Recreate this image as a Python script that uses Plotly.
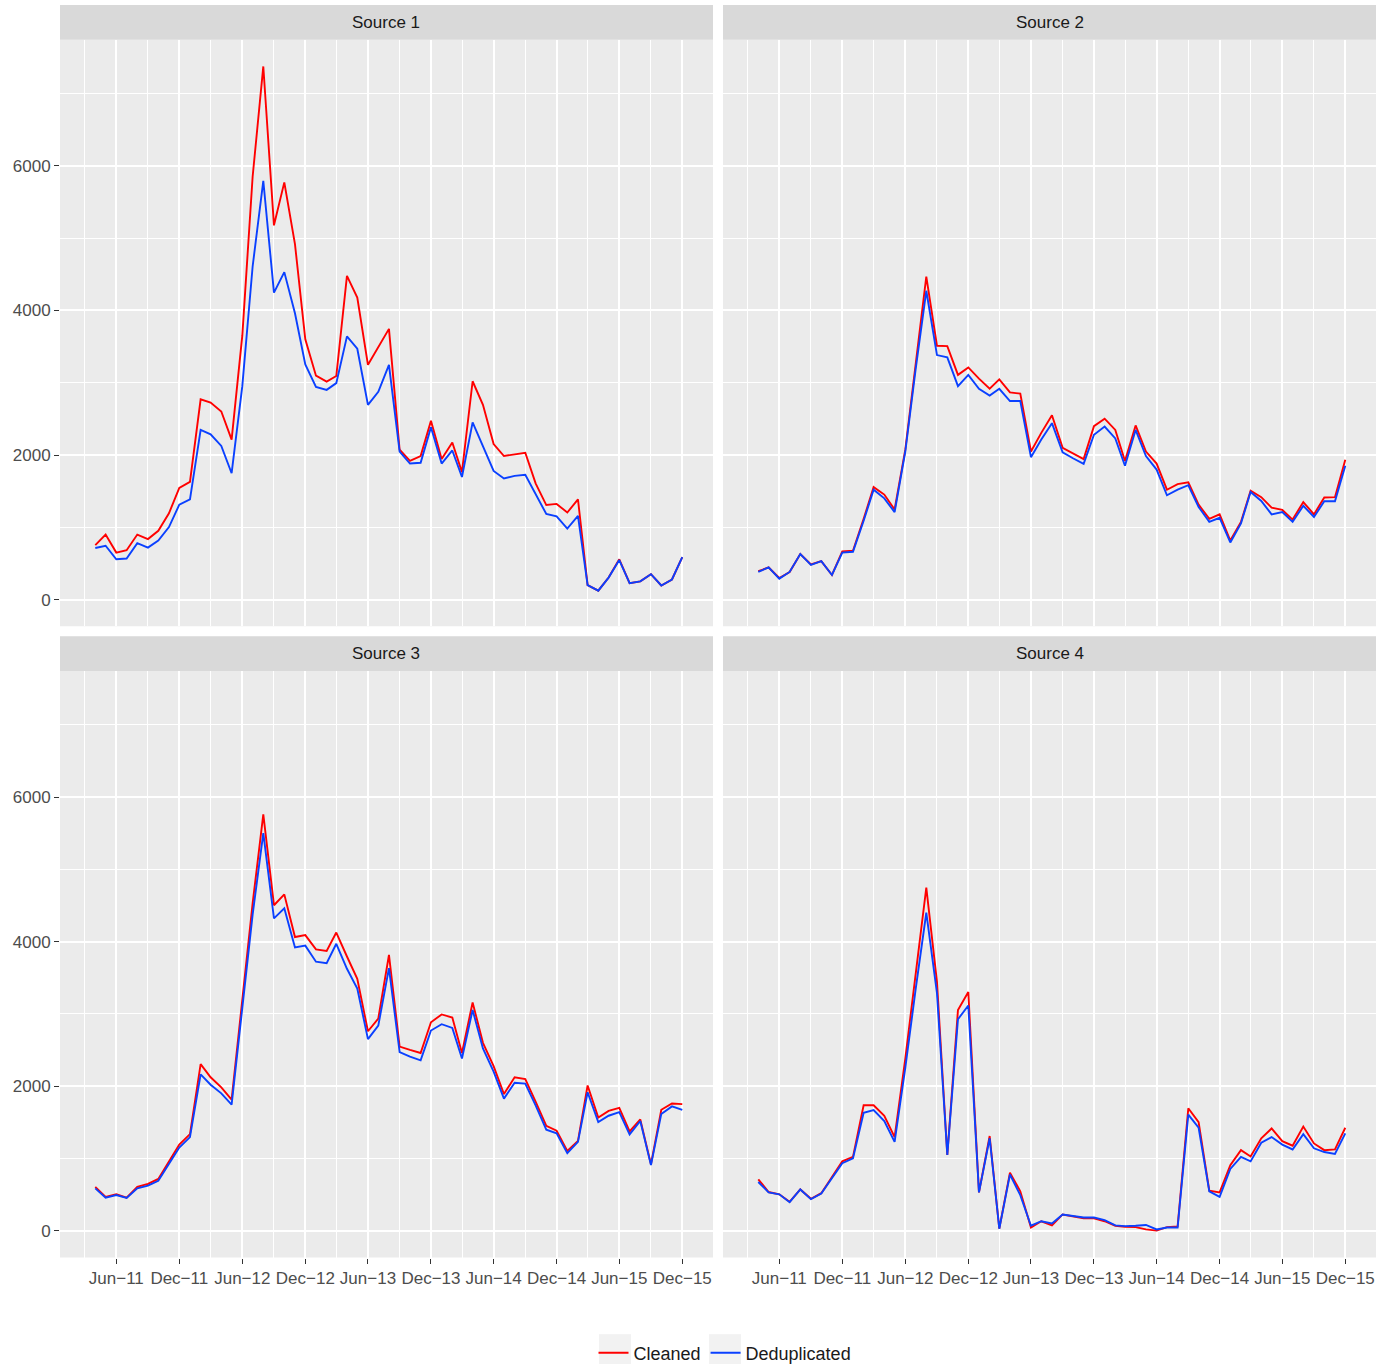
import plotly.graph_objects as go
import pandas as pd

# ---------------- data ----------------
months = pd.date_range("2011-04-01", periods=57, freq="MS")

panel_titles = ["Source 1", "Source 2", "Source 3", "Source 4"]
series_names = ["Cleaned", "Deduplicated"]

s1_cleaned = [755, 900, 651, 683, 900, 838, 951, 1194, 1546, 1629, 2771, 2725, 2601, 2213, 3650, 5848, 7373,
              5176, 5770, 4917, 3599, 3097, 3014, 3092, 4478, 4178, 3247, 3495, 3744, 2073, 1918, 1986, 2472,
              1944, 2172, 1763, 3020, 2694, 2151, 1986, 2011, 2032, 1608, 1308, 1324, 1205, 1386, 202, 124,
              305, 558, 228, 253, 352, 196, 279, 589]
s1_dedup = [714, 745, 558, 569, 781, 719, 817, 1003, 1313, 1386, 2347, 2285, 2125, 1748, 2952, 4607, 5791,
            4245, 4529, 3961, 3252, 2942, 2901, 2994, 3640, 3470, 2694, 2875, 3247, 2048, 1882, 1892, 2384,
            1882, 2063, 1696, 2451, 2115, 1779, 1675, 1711, 1727, 1468, 1184, 1153, 982, 1158, 202, 124,
            305, 548, 228, 253, 352, 196, 279, 589]

s2_cleaned = [393, 445, 300, 383, 631, 486, 533, 341, 667, 677, 1117, 1556, 1453, 1246, 2073, 3263, 4467,
              3511, 3506, 3108, 3211, 3056, 2916, 3046, 2865, 2849, 2048, 2306, 2549, 2099, 2022, 1944, 2399,
              2503, 2347, 1918, 2409, 2048, 1882, 1520, 1598, 1624, 1313, 1117, 1179, 817, 1075, 1505, 1417,
              1272, 1241, 1107, 1350, 1179, 1412, 1417, 1934]
s2_dedup = [383, 445, 290, 383, 631, 480, 533, 341, 651, 662, 1091, 1520, 1401, 1210, 2048, 3185, 4271,
            3382, 3351, 2952, 3108, 2916, 2823, 2916, 2746, 2746, 1970, 2213, 2440, 2037, 1955, 1877, 2280,
            2394, 2229, 1851, 2347, 1986, 1799, 1443, 1520, 1582, 1282, 1075, 1132, 791, 1055, 1489, 1365,
            1179, 1210, 1075, 1298, 1143, 1360, 1360, 1851]

s3_cleaned = [610, 471, 507, 460, 610, 651, 719, 962, 1194, 1339, 2306, 2125, 1986, 1815, 3185, 4530, 5760,
              4504, 4654, 4064, 4090, 3893, 3873, 4126, 3795, 3485, 2761, 2937, 3816, 2549, 2503, 2461, 2885,
              2994, 2952, 2461, 3159, 2601, 2280, 1892, 2125, 2099, 1789, 1453, 1386, 1107, 1246, 2011, 1567,
              1660, 1701, 1375, 1541, 920, 1675, 1763, 1753]
s3_dedup = [589, 460, 496, 455, 589, 626, 693, 920, 1153, 1298, 2166, 2022, 1903, 1748, 3056, 4374, 5502,
            4323, 4462, 3919, 3945, 3723, 3702, 3971, 3625, 3351, 2653, 2839, 3635, 2472, 2409, 2358, 2771,
            2859, 2808, 2384, 3056, 2523, 2203, 1830, 2048, 2037, 1737, 1401, 1350, 1075, 1231, 1918, 1505,
            1593, 1644, 1334, 1520, 910, 1618, 1722, 1675]

s4_cleaned = [714, 538, 507, 403, 574, 445, 522, 755, 962, 1024, 1737, 1737, 1593, 1298, 2384, 3547, 4747,
              3444, 1050, 3056, 3304, 533, 1313, 31, 807, 548, 47, 134, 78, 228, 207, 176, 176, 134, 72, 57,
              52, 21, 5, 52, 62, 1696, 1505, 558, 533, 910, 1117, 1029, 1282, 1417, 1241, 1179, 1443, 1210,
              1117, 1127, 1427]
s4_dedup = [677, 533, 507, 398, 574, 440, 517, 729, 936, 1003, 1634, 1670, 1520, 1231, 2254, 3340, 4400,
            3289, 1050, 2927, 3118, 533, 1282, 31, 781, 496, 72, 134, 104, 228, 207, 186, 186, 150, 77, 67,
            72, 83, 21, 47, 47, 1608, 1427, 548, 471, 858, 1024, 962, 1220, 1298, 1194, 1127, 1339, 1143,
            1091, 1065, 1350]

x_tick_dates = ["2011-06-01", "2011-12-01", "2012-06-01", "2012-12-01", "2013-06-01",
                "2013-12-01", "2014-06-01", "2014-12-01", "2015-06-01", "2015-12-01"]
x_tick_labels = ["Jun\u221211", "Dec\u221211", "Jun\u221212", "Dec\u221212", "Jun\u221213",
                 "Dec\u221213", "Jun\u221214", "Dec\u221214", "Jun\u221215", "Dec\u221215"]
y_tick_vals = [0, 2000, 4000, 6000]
y_tick_labels = ["0", "2000", "4000", "6000"]
y_minor_vals = [1000, 3000, 5000, 7000]

cleaned = [s1_cleaned, s2_cleaned, s3_cleaned, s4_cleaned]
dedup = [s1_dedup, s2_dedup, s3_dedup, s4_dedup]

# ---------------- styling ----------------
W, H = 1396, 1372
FONT = "Liberation Sans, Arial, Helvetica, sans-serif"
RED = "#FF0000"
BLUE = "#0A40FF"
PANEL_BG = "#EBEBEB"
STRIP_BG = "#D9D9D9"

# panel boxes in pixels: (x0, x1, y0, y1) top-left origin
boxes = [(60, 713, 40, 630), (723, 1376, 40, 630), (60, 713, 675, 1265), (723, 1376, 675, 1265)]
STRIP_H = 35

major = pd.to_datetime(["2010-12-01"] + x_tick_dates)
x_minor = [major[i] + (major[i + 1] - major[i]) / 2 for i in range(len(major) - 1)]
x_range = ["2010-12-19 12:00", "2016-02-28 05:00"]
y_range = [-369, 7742]

fig = go.Figure()
shapes = []
annotations = []

for k in range(4):
    x0, x1, y0, y1 = boxes[k]
    sfx = "" if k == 0 else str(k + 1)
    xa, ya = "x" + sfx, "y" + sfx
    fig.add_trace(go.Scatter(x=months, y=cleaned[k], mode="lines", name=series_names[0],
                             line=dict(color=RED, width=1.9), xaxis=xa, yaxis=ya,
                             legendgroup="c", showlegend=(k == 0)))
    fig.add_trace(go.Scatter(x=months, y=dedup[k], mode="lines", name=series_names[1],
                             line=dict(color=BLUE, width=1.9), xaxis=xa, yaxis=ya,
                             legendgroup="d", showlegend=(k == 0)))
    bottom = k >= 2
    left = k % 2 == 0
    fig.update_layout(**{
        "xaxis" + sfx: dict(
            domain=[x0 / W, x1 / W], range=x_range, type="date", anchor=ya,
            tickvals=x_tick_dates, ticktext=x_tick_labels, tickangle=0,
            showticklabels=bottom, ticks="outside" if bottom else "", ticklen=5,
            tickcolor="#333333", tickwidth=1,
            tickfont=dict(family=FONT, size=17, color="#4D4D4D"),
            showgrid=True, gridcolor="white", gridwidth=1.5, zeroline=False, showline=False,
            minor=dict(tickvals=x_minor, showgrid=True, gridcolor="white", gridwidth=0.8, ticks=""),
            automargin=False, fixedrange=True,
        ),
        "yaxis" + sfx: dict(
            domain=[1 - y1 / H, 1 - y0 / H], range=y_range, anchor=xa,
            tickvals=y_tick_vals, ticktext=y_tick_labels,
            showticklabels=left, ticks="outside" if left else "", ticklen=5,
            tickcolor="#333333", tickwidth=1,
            tickfont=dict(family=FONT, size=17, color="#4D4D4D"),
            showgrid=True, gridcolor="white", gridwidth=1.5, zeroline=False, showline=False,
            minor=dict(tickvals=y_minor_vals, showgrid=True, gridcolor="white", gridwidth=0.8, ticks=""),
            automargin=False, fixedrange=True,
        ),
    })
    # panel background
    shapes.append(dict(type="rect", xref="paper", yref="paper", x0=x0 / W, x1=x1 / W,
                       y0=1 - y1 / H, y1=1 - y0 / H, fillcolor=PANEL_BG, line=dict(width=0),
                       layer="below"))
    # strip
    shapes.append(dict(type="rect", xref="paper", yref="paper", x0=x0 / W, x1=x1 / W,
                       y0=1 - y0 / H, y1=1 - (y0 - STRIP_H) / H, fillcolor=STRIP_BG,
                       line=dict(width=0), layer="below"))
    annotations.append(dict(text=panel_titles[k], xref="paper", yref="paper",
                            x=(x0 + x1) / 2 / W, y=1 - (y0 - STRIP_H / 2) / H,
                            xanchor="center", yanchor="middle", showarrow=False,
                            font=dict(family=FONT, size=17, color="#1A1A1A")))

# legend key backgrounds
for kx0 in (599, 709):
    shapes.append(dict(type="rect", xref="paper", yref="paper", x0=kx0 / W, x1=(kx0 + 32) / W,
                       y0=0, y1=1 - 1342 / H, fillcolor="#F2F2F2",
                       line=dict(width=0), layer="below"))

fig.update_layout(
    width=W, height=H,
    margin=dict(l=0, r=0, t=0, b=0),
    paper_bgcolor="white", plot_bgcolor="rgba(0,0,0,0)",
    font=dict(family=FONT, size=17, color="#1A1A1A"),
    shapes=shapes, annotations=annotations,
    showlegend=True,
    legend=dict(orientation="h", x=0.5 + 27 / W, xanchor="center", y=1 - 1361 / H, yanchor="middle",
                bgcolor="rgba(0,0,0,0)", font=dict(family=FONT, size=18, color="#1A1A1A"),
                itemwidth=30, tracegroupgap=0),
)

fig.write_html("out.html", config={"displayModeBar": False},
               post_script="document.body.style.margin='0px';document.body.style.overflow='hidden';")
